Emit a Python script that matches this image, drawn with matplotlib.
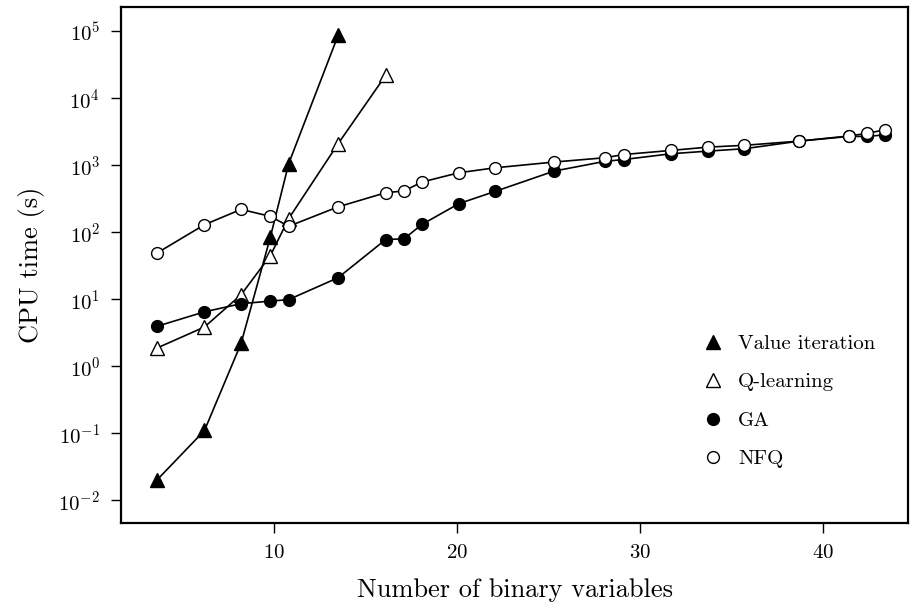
import matplotlib
matplotlib.use("Agg")
import matplotlib.pyplot as plt

# Données
n_vars = [3.6, 6.2, 8.2, 9.8, 10.8, 13.5, 16.1, 17.1, 18.1, 20.1, 22.1,
          25.3, 28.1, 29.1, 31.7, 33.7, 35.7, 38.7, 41.4, 42.4, 43.4]

vi_x = n_vars[:6]
vi_t = [0.02, 0.11, 2.2, 85, 1060, 87000]

ql_x = n_vars[:7]
ql_t = [1.87, 3.86, 11.7, 45, 160, 2100, 22000]

ga_x = n_vars
ga_t = [3.95, 6.5, 8.6, 9.4, 9.9, 21, 78, 80, 132, 268, 410,
        820, 1150, 1220, 1490, 1630, 1770, 2300, 2700, 2700, 2860]

nfq_x = n_vars
nfq_t = [49, 130, 220, 173, 123, 240, 390, 415, 565, 775, 920,
         1120, 1300, 1450, 1670, 1870, 1990, 2300, 2740, 3000, 3400]

plt.rcParams['font.family'] = ['cmr10', 'DejaVu Serif']
plt.rcParams['mathtext.fontset'] = 'cm'
plt.rcParams['axes.formatter.use_mathtext'] = True

fig = plt.figure(figsize=(9.1, 6.05), dpi=100)
ax = fig.add_axes([0.133, 0.1355, 0.865, 0.8525])

lw = 1.2
ax.plot(vi_x, vi_t, '-^', color='black', lw=lw, ms=10, mfc='black', mec='black', label='Value iteration')
ax.plot(ql_x, ql_t, '-^', color='black', lw=lw, ms=10, mfc='white', mec='black', mew=1.0, label='Q-learning')
ax.plot(ga_x, ga_t, '-o', color='black', lw=lw, ms=8.5, mfc='black', mec='black', label='GA')
ax.plot(nfq_x, nfq_t, '-o', color='black', lw=lw, ms=8.5, mfc='white', mec='black', mew=1.0, label='NFQ')

ax.set_yscale('log')
ax.set_xlim(1.64, 44.65)
ax.set_ylim(10**-2.34, 10**5.36)
ax.set_xticks([10, 20, 30, 40])
ax.set_yticks([1e-2, 1e-1, 1e0, 1e1, 1e2, 1e3, 1e4, 1e5])
ax.minorticks_off()
ax.tick_params(direction='out', length=7, width=1, labelsize=15, pad=8)

for s in ax.spines.values():
    s.set_linewidth(1.6)

ax.set_xlabel('Number of binary variables', fontsize=19, labelpad=12)
ax.set_ylabel('CPU time (s)', fontsize=19, labelpad=10)

leg = ax.legend(loc='lower right', bbox_to_anchor=(0.982, 0.07), frameon=False,
                fontsize=15, handlelength=1.0, handletextpad=0.7,
                labelspacing=0.95, numpoints=1)
for line in leg.get_lines():
    line.set_linestyle('')

fig.savefig('out.png', dpi=100)
